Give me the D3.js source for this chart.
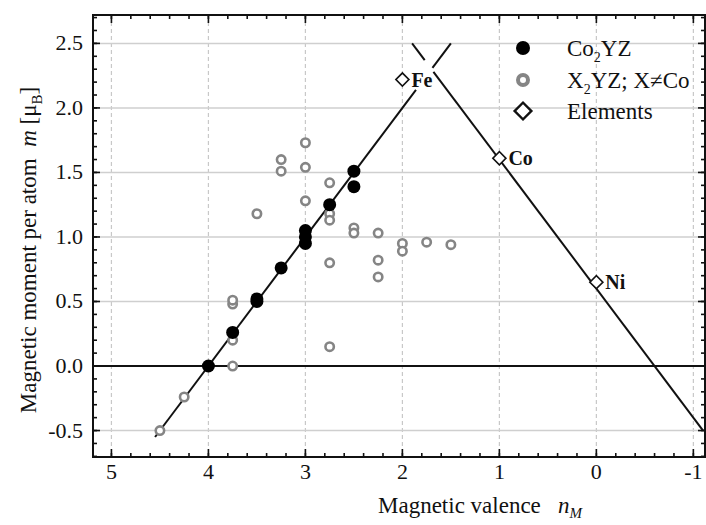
<!DOCTYPE html>
<html><head><meta charset="utf-8">
<script src="https://cdn.jsdelivr.net/npm/d3@7"></script>
<style>
body{margin:0;background:#fff;}
text{font-family:"Liberation Serif","Times New Roman",serif;fill:#111;}
</style></head>
<body><svg id="c" width="706" height="525"></svg>
<script>
// ---- data ----
const co2yzN = [4, 3.75, 3.5, 3.5, 3.25, 3, 3, 3, 2.75, 2.5, 2.5];
const co2yzM = [0, 0.26, 0.5, 0.52, 0.76, 1.05, 1.0, 0.95, 1.25, 1.51, 1.39];
const x2yzN = [4.5, 4.25, 3.75, 3.75, 3.75, 3.75, 3.5, 3.25, 3.25, 3, 3, 3, 2.75, 2.75, 2.75, 2.75, 2.75, 2.5, 2.5, 2.25, 2.25, 2.25, 2, 2, 1.75, 1.5];
const x2yzM = [-0.5, -0.24, 0.0, 0.2, 0.48, 0.51, 1.18, 1.51, 1.6, 1.73, 1.54, 1.28, 1.42, 1.18, 1.13, 0.8, 0.15, 1.07, 1.03, 1.03, 0.82, 0.69, 0.95, 0.89, 0.96, 0.94];
const elemNames = ["Fe", "Co", "Ni"];
const elemN = [2, 1, 0];
const elemM = [2.22, 1.61, 0.65];
// Slater-Pauling lines (segments, broken around the Fe label)
const leftSegN = [[4.55, 1.86], [1.69, 1.5]];
const leftSegM = [[-0.55, 2.14], [2.31, 2.5]];
const rightSegN = [[1.9, 1.77], [1.68, -1.1]];
const rightSegM = [[2.5, 2.37], [2.28, -0.5]];
const xTicks = [5, 4, 3, 2, 1, 0, -1];
const xTickLabels = ["5", "4", "3", "2", "1", "0", "-1"];
const yTicks = [-0.5, 0, 0.5, 1, 1.5, 2, 2.5];
const yTickLabels = ["-0.5", "0.0", "0.5", "1.0", "1.5", "2.0", "2.5"];
const legendLabels = ["Co2YZ", "X2YZ; X≠Co", "Elements"];

// ---- layout ----
const L = 93, R = 705, T = 15, B = 457;
const svg = d3.select("#c");
const x = d3.scaleLinear().domain([5.19, -1.12]).range([L, R]);
const y = d3.scaleLinear().domain([-0.705, 2.72]).range([B, T]);

// grid
const g = svg.append("g");
g.selectAll(".vg").data(xTicks).join("line")
  .attr("x1", d => x(d)).attr("x2", d => x(d)).attr("y1", T).attr("y2", B)
  .attr("stroke", "#c8c8c8").attr("stroke-width", 1.2).attr("stroke-dasharray", "4,3");
g.selectAll(".hg").data(yTicks.filter(d => d !== 0)).join("line")
  .attr("x1", L).attr("x2", R).attr("y1", d => y(d)).attr("y2", d => y(d))
  .attr("stroke", "#cfcfcf").attr("stroke-width", 1.5);
// zero line
svg.append("line").attr("x1", L).attr("x2", R).attr("y1", y(0)).attr("y2", y(0))
  .attr("stroke", "#111").attr("stroke-width", 1.8);

// axes (inward ticks, mirrored)
const xMinor = d3.range(-1, 5.01, 0.2).map(v => +v.toFixed(2));
const yMinor = d3.range(-0.7, 2.71, 0.1).map(v => +v.toFixed(2));
const ax = svg.append("g").attr("stroke", "#111").attr("stroke-width", 1.6);
function xt(data, len) {
  ax.append("g").selectAll("line").data(data).join("line")
    .attr("x1", d => x(d)).attr("x2", d => x(d)).attr("y1", B).attr("y2", B - len);
  ax.append("g").selectAll("line").data(data).join("line")
    .attr("x1", d => x(d)).attr("x2", d => x(d)).attr("y1", T).attr("y2", T + len);
}
function yt(data, len) {
  ax.append("g").selectAll("line").data(data).join("line")
    .attr("y1", d => y(d)).attr("y2", d => y(d)).attr("x1", L).attr("x2", L + len);
  ax.append("g").selectAll("line").data(data).join("line")
    .attr("y1", d => y(d)).attr("y2", d => y(d)).attr("x1", R).attr("x2", R - len);
}
xt(xMinor, 4); xt(xTicks, 8); yt(yMinor, 4); yt(yTicks, 7);
svg.append("rect").attr("x", L).attr("y", T).attr("width", R - L).attr("height", B - T)
  .attr("fill", "none").attr("stroke", "#111").attr("stroke-width", 2);

// tick labels
svg.append("g").selectAll("text").data(xTicks).join("text")
  .attr("x", d => x(d)).attr("y", 479).attr("text-anchor", "middle")
  .attr("font-size", 22).text((d, i) => xTickLabels[i]);
svg.append("g").selectAll("text").data(yTicks).join("text")
  .attr("x", 83).attr("y", d => y(d) + 7).attr("text-anchor", "end")
  .attr("font-size", 22).text((d, i) => yTickLabels[i]);

// axis titles
const xl = svg.append("text").attr("x", 378).attr("y", 513).attr("text-anchor", "start").attr("font-size", 23);
xl.append("tspan").text("Magnetic valence\u00a0\u00a0\u00a0");
xl.append("tspan").attr("font-style", "italic").text("n");
xl.append("tspan").attr("font-style", "italic").attr("font-size", 15).attr("dy", 5).text("M");
const yl = svg.append("text").attr("transform", "translate(36,250) rotate(-90)").attr("text-anchor", "middle").attr("font-size", 23);
yl.append("tspan").text("Magnetic moment per atom\u00a0\u00a0");
yl.append("tspan").attr("font-style", "italic").text("m");
yl.append("tspan").text(" [\u03bc");
yl.append("tspan").attr("font-size", 15).attr("dy", 6).text("B");
yl.append("tspan").attr("dy", -6).text("]");

// lines
const line = d3.line().x(d => x(d[0])).y(d => y(d[1]));
[[leftSegN, leftSegM], [rightSegN, rightSegM]].forEach(([ns, ms]) => {
  ns.forEach((seg, i) => {
    svg.append("path").attr("d", line(seg.map((n, j) => [n, ms[i][j]])))
      .attr("fill", "none").attr("stroke", "#111").attr("stroke-width", 2);
  });
});

// grey circles
svg.append("g").selectAll("circle").data(x2yzN).join("circle")
  .attr("cx", d => x(d)).attr("cy", (d, i) => y(x2yzM[i])).attr("r", 4.2)
  .attr("fill", "#fff").attr("stroke", "#858585").attr("stroke-width", 2.6);
// black circles
svg.append("g").selectAll("circle").data(co2yzN).join("circle")
  .attr("cx", d => x(d)).attr("cy", (d, i) => y(co2yzM[i])).attr("r", 6.5)
  .attr("fill", "#000");
// element diamonds
svg.append("g").selectAll("path").data(elemN).join("path")
  .attr("transform", (d, i) => `translate(${x(d)},${y(elemM[i])}) rotate(45)`)
  .attr("d", d3.symbol().type(d3.symbolSquare).size(85))
  .attr("fill", "#fff").attr("stroke", "#111").attr("stroke-width", 1.6);
svg.append("g").selectAll("text").data(elemN).join("text")
  .attr("x", d => x(d) + 9).attr("y", (d, i) => y(elemM[i]) + 7)
  .attr("font-size", 20).attr("font-weight", "bold").text((d, i) => elemNames[i]);

// legend
const lx = 523, ly = [48, 80, 111], tx = 567;
svg.append("circle").attr("cx", lx).attr("cy", ly[0]).attr("r", 7).attr("fill", "#000");
svg.append("circle").attr("cx", lx).attr("cy", ly[1]).attr("r", 5).attr("fill", "#fff").attr("stroke", "#858585").attr("stroke-width", 4);
svg.append("path").attr("transform", `translate(${lx},${ly[2]}) rotate(45)`)
  .attr("d", d3.symbol().type(d3.symbolSquare).size(140))
  .attr("fill", "#fff").attr("stroke", "#111").attr("stroke-width", 2.4);
function subLabel(txt, yy) {
  const t = svg.append("text").attr("x", tx).attr("y", yy).attr("font-size", 23);
  const m = txt.match(/^([A-Za-z]+)(2)(.*)$/);
  if (m) {
    t.append("tspan").text(m[1]);
    t.append("tspan").attr("font-size", 14).attr("dy", 6).text(m[2]);
    t.append("tspan").attr("dy", -6).text(m[3]);
  } else t.text(txt);
}
legendLabels.forEach((s, i) => subLabel(s, ly[i] + 8));
</script></body></html>
